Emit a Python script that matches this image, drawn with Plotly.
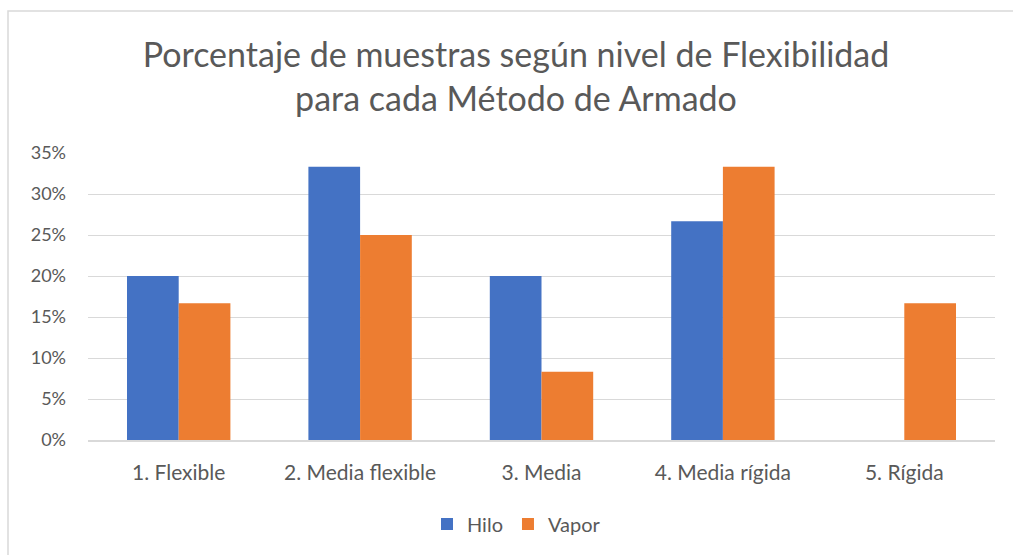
import plotly.graph_objects as go

categories = ["1. Flexible", "2. Media flexible", "3. Media", "4. Media rígida", "5. Rígida"]
hilo = [0.20, 0.3333, 0.20, 0.2667, 0.0]
vapor = [0.1667, 0.25, 0.0833, 0.3333, 0.1667]
y_ticks = [0, 0.05, 0.10, 0.15, 0.20, 0.25, 0.30, 0.35]
y_tick_labels = ["0%", "5%", "10%", "15%", "20%", "25%", "30%", "35%"]

W, H = 1013, 555
L, R, T, B = 88, 18, 153, 113
FONT = "Lato"
GRAY = "#595959"

fig = go.Figure()
fig.add_trace(go.Bar(name="Hilo", x=categories, y=hilo, marker=dict(color="#4472C4", line=dict(width=0))))
fig.add_trace(go.Bar(name="Vapor", x=categories, y=vapor, marker=dict(color="#ED7D31", line=dict(width=0))))

pw = W - L - R
ph = H - T - B
# chart border (top and left visible; right/bottom cropped)
fig.add_shape(type="rect", xref="paper", yref="paper",
              x0=(8 - L) / pw, x1=(W + 20 - L) / pw,
              y0=-(H + 20 - T - ph) / ph, y1=1 + (T - 10) / ph,
              line=dict(color="#D9D9D9", width=1.5), fillcolor="rgba(0,0,0,0)", layer="below")

fig.update_layout(
    width=W, height=H,
    margin=dict(l=L, r=R, t=T, b=B, pad=0),
    paper_bgcolor="white", plot_bgcolor="white",
    barmode="group", bargap=0.43, bargroupgap=0,
    font=dict(family=FONT, color=GRAY, size=18),
    title=dict(text="Porcentaje de muestras según nivel de Flexibilidad<br>para cada Método de Armado",
               x=516 / W, xref="container", xanchor="center", y=1 - 67 / H, yanchor="top",
               font=dict(family=FONT, size=34, color=GRAY)),
    xaxis=dict(showgrid=False, showline=True, linecolor="#D9D9D9", linewidth=1.5,
               ticks="", tickfont=dict(size=21, color=GRAY), ticklabelstandoff=13),
    yaxis=dict(range=[0, 0.35], tickvals=y_ticks, ticktext=y_tick_labels,
               showgrid=True, gridcolor="#D9D9D9", gridwidth=1.2, zeroline=False,
               showline=False, ticks="", tickfont=dict(size=18, color=GRAY), ticklabelstandoff=21),
    legend=dict(orientation="h", x=0.5 - 25 / pw, xanchor="center", y=-(507 - 442) / ph,
                yanchor="top", font=dict(size=20, color=GRAY), itemwidth=30,
                traceorder="normal"),
    showlegend=True,
)

fig.write_html("out.html", config={"displayModeBar": False},
               post_script="document.body.style.margin='0';document.body.style.overflow='hidden';")
